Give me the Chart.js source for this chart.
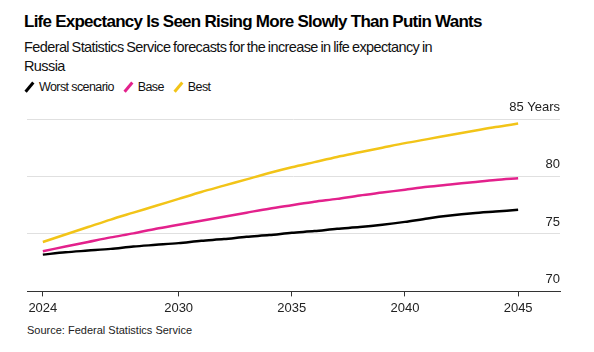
<!DOCTYPE html>
<html>
<head>
<meta charset="utf-8">
<script src="https://cdn.jsdelivr.net/npm/chart.js@4"></script>
<style>
  body { margin: 0; background: #fff; font-family: "Liberation Sans", Arial, sans-serif; color: #000; }
  #wrap { position: relative; width: 594px; height: 352px; overflow: hidden; }
  #title { position: absolute; left: 24px; top: 12px; font-size: 17px; font-weight: bold; white-space: nowrap; letter-spacing: -0.75px; }
  #subtitle { position: absolute; left: 24px; top: 38px; width: 445px; font-size: 14.5px; line-height: 19px; color: #111; letter-spacing: -0.6px; word-spacing: -0.8px; }
  #legend { position: absolute; left: 24px; top: 80px; font-size: 12.5px; color: #111; white-space: nowrap; letter-spacing: -0.6px; }
  .item { display: inline-block; margin-right: 9px; }
  .icon { display: inline-block; width: 10px; height: 10px; position: relative; margin-right: 5px; vertical-align: -1px; }
  .icon::after { content: ""; position: absolute; left: 4px; top: -1px; width: 2.5px; height: 12px; background: var(--c); transform: rotate(40deg); }
  #chartBox { position: absolute; left: 0; top: 95px; width: 594px; height: 225px; }
  #source { position: absolute; left: 27px; top: 324px; font-size: 11px; color: #222; }
</style>
</head>
<body>
<div id="wrap">
  <div id="title">Life Expectancy Is Seen Rising More Slowly Than Putin Wants</div>
  <div id="subtitle">Federal Statistics Service forecasts for the increase in life expectancy in Russia</div>
  <div id="legend"></div>
  <div id="chartBox"><canvas id="chart"></canvas></div>
  <div id="source">Source: Federal Statistics Service</div>
</div>
<script>
// Data
const YEARS = [2024, 2025, 2026, 2027, 2028, 2029, 2030, 2031, 2032, 2033, 2034,
  2035, 2036, 2037, 2038, 2039, 2040, 2041, 2042, 2043, 2044, 2045];
const WORST = [73.2, 73.4, 73.55, 73.7, 73.9, 74.05, 74.2, 74.4, 74.55, 74.75, 74.9,
  75.1, 75.25, 75.45, 75.6, 75.8, 76.05, 76.35, 76.6, 76.8, 76.95, 77.1];
const BASE = [73.5, 73.9, 74.3, 74.7, 75.05, 75.45, 75.8, 76.15, 76.5, 76.85, 77.2,
  77.5, 77.8, 78.05, 78.35, 78.6, 78.85, 79.1, 79.3, 79.5, 79.7, 79.85];
const BEST = [74.3, 74.95, 75.6, 76.25, 76.85, 77.45, 78.05, 78.65, 79.2, 79.75, 80.3,
  80.8, 81.25, 81.7, 82.1, 82.5, 82.9, 83.25, 83.6, 83.95, 84.3, 84.6];
const X_TICKS = [2024, 2030, 2035, 2040, 2045];
const Y_TICKS = [70, 75, 80, 85];

const SERIES = [
  { name: "Worst scenario", values: WORST, color: "#000000" },
  { name: "Base", values: BASE, color: "#e3218c" },
  { name: "Best", values: BEST, color: "#f2c418" },
];

// Legend
const legend = document.getElementById("legend");
SERIES.forEach((s) => {
  const item = document.createElement("span");
  item.className = "item";
  item.innerHTML = `<span class="icon" style="--c:${s.color}"></span>${s.name}`;
  legend.appendChild(item);
});

// Chart
const ctx = document.getElementById("chart").getContext("2d");
new Chart(ctx, {
  type: "line",
  data: {
    datasets: SERIES.map((s) => ({
      label: s.name,
      data: YEARS.map((y, i) => ({ x: y, y: s.values[i] })),
      borderColor: s.color,
      borderWidth: 2.5,
      pointRadius: 0,
      tension: 0.3,
      fill: false,
    })).reverse(),
  },
  options: {
    responsive: true,
    maintainAspectRatio: false,
    animation: false,
    layout: { padding: { left: 27, right: 34, top: 24, bottom: 0 } },
    plugins: { legend: { display: false }, tooltip: { enabled: false } },
    scales: {
      x: {
        type: "linear",
        min: 2023.3,
        max: 2046.85,
        afterBuildTicks: (axis) => {
          axis.ticks = X_TICKS.map((v) => ({ value: v }));
        },
        grid: { drawOnChartArea: false, drawTicks: true, tickLength: 5, color: "#333" },
        border: { display: true, color: "#333", width: 1 },
        ticks: {
          font: { family: "Liberation Sans", size: 13 },
          color: "#222",
          padding: 4,
          maxRotation: 0,
          autoSkip: false,
          callback: (v) => String(v),
        },
      },
      y: {
        position: "right",
        min: 70,
        max: 85,
        afterBuildTicks: (axis) => {
          axis.ticks = Y_TICKS.map((v) => ({ value: v }));
        },
        grid: {
          drawTicks: false,
          color: (c) => (c.tick && c.tick.value === 70 ? "rgba(0,0,0,0)" : "#e0e0e0"),
        },
        border: { display: false },
        ticks: {
          mirror: true,
          padding: 0,
          labelOffset: -12,
          font: { family: "Liberation Sans", size: 13 },
          color: "#222",
          callback: (v) => (v === 85 ? "85 Years" : String(v)),
        },
      },
    },
  },
});
</script>
</body>
</html>
